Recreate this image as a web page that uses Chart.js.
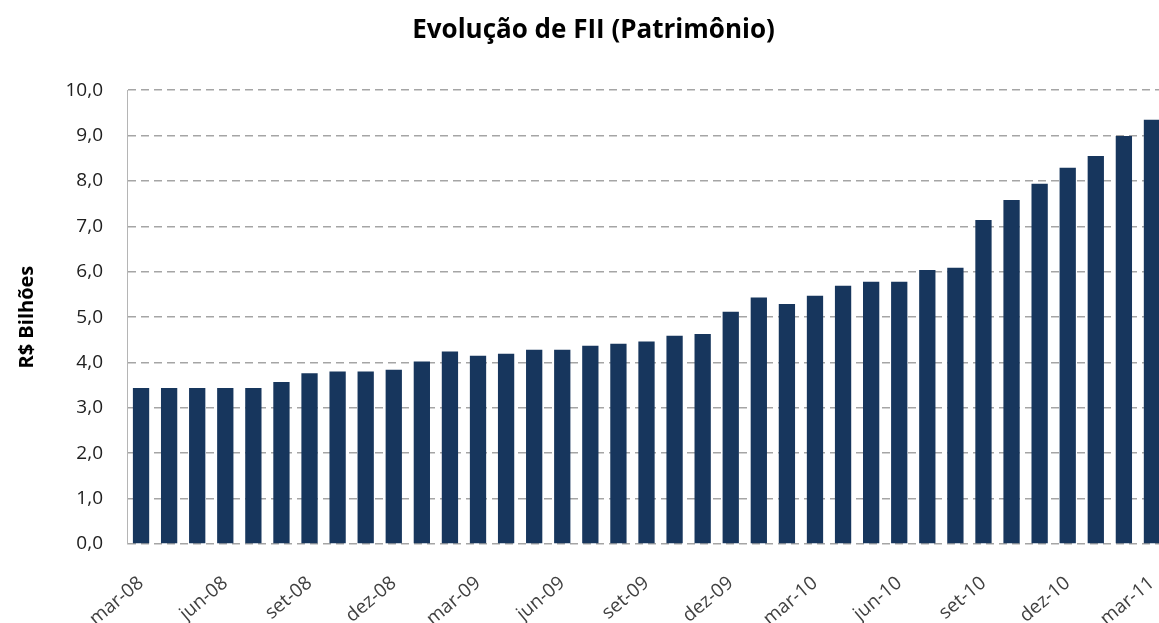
<!DOCTYPE html>
<html>
<head>
<meta charset="utf-8">
<script src="https://cdn.jsdelivr.net/npm/chart.js@4"></script>
<style>
  html, body { margin: 0; padding: 0; background: #fff; overflow: hidden; }
  #wrap { width: 1172px; height: 623px; }
</style>
</head>
<body>
<div id="wrap"><canvas id="chart" width="1172" height="623"></canvas></div>
<script>
// months (mar-08 .. mar-11)
var months = [
  'mar-08','abr-08','mai-08','jun-08','jul-08','ago-08','set-08','out-08','nov-08','dez-08',
  'jan-09','fev-09','mar-09','abr-09','mai-09','jun-09','jul-09','ago-09','set-09','out-09','nov-09','dez-09',
  'jan-10','fev-10','mar-10','abr-10','mai-10','jun-10','jul-10','ago-10','set-10','out-10','nov-10','dez-10',
  'jan-11','fev-11','mar-11'
];

// patrimonio, R$ bilhoes
var patrimonio = [
  3.44, 3.44, 3.44, 3.44, 3.44, 3.57, 3.76, 3.80, 3.80, 3.84,
  4.02, 4.24, 4.15, 4.19, 4.28, 4.28, 4.37, 4.41, 4.46, 4.59, 4.63, 5.12,
  5.43, 5.29, 5.47, 5.69, 5.78, 5.78, 6.04, 6.09, 7.14, 7.58, 7.94, 8.29,
  8.55, 8.99, 9.35
];

var yMin = 0, yMax = 10, yStep = 1;
var labelEvery = 3;

var ctx = document.getElementById('chart');

new Chart(ctx, {
  type: 'bar',
  data: {
    labels: months,
    datasets: [{
      label: 'Patrimônio',
      data: patrimonio,
      backgroundColor: '#17365d',
      borderWidth: 0,
      barPercentage: 0.58,
      categoryPercentage: 1.0
    }]
  },
  options: {
    responsive: false,
    animation: false,
    layout: { padding: { left: 21, right: 6, top: 0, bottom: 0 } },
    plugins: {
      legend: { display: false },
      tooltip: { enabled: false },
      title: {
        display: true,
        text: 'Evolução de FII (Patrimônio)',
        color: '#000',
        font: { family: 'Open Sans', size: 26, weight: 'bold' },
        padding: { top: 15, bottom: 44 }
      }
    },
    scales: {
      x: {
        grid: { display: false, drawTicks: false },
        border: { display: false },
        ticks: {
          autoSkip: false,
          maxRotation: 40,
          minRotation: 40,
          padding: 28,
          color: '#404040',
          font: { family: 'Open Sans', size: 19 },
          callback: function (value, index) {
            return index % labelEvery === 0 ? months[index] : '';
          }
        },
        afterFit: function (scale) {
          scale.height = 79;
          scale.paddingLeft = 0;
          scale.paddingRight = 0;
        }
      },
      y: {
        min: yMin,
        max: yMax,
        grid: { color: '#a5a5a5', lineWidth: 1.5, drawTicks: false },
        border: { display: true, color: '#b5b5b5', width: 1, dash: [8, 5] },
        ticks: {
          stepSize: yStep,
          padding: 24,
          color: '#202020',
          font: { family: 'Open Sans', size: 19 },
          callback: function (value) { return value.toFixed(1).replace('.', ','); }
        },
        title: {
          display: true,
          text: 'R$ Bilhões',
          color: '#000',
          font: { family: 'Open Sans', size: 20, weight: 'bold' },
          padding: { top: -6, bottom: 0 }
        },
        afterFit: function (scale) { scale.width = 106; }
      }
    }
  }
});
</script>
</body>
</html>
